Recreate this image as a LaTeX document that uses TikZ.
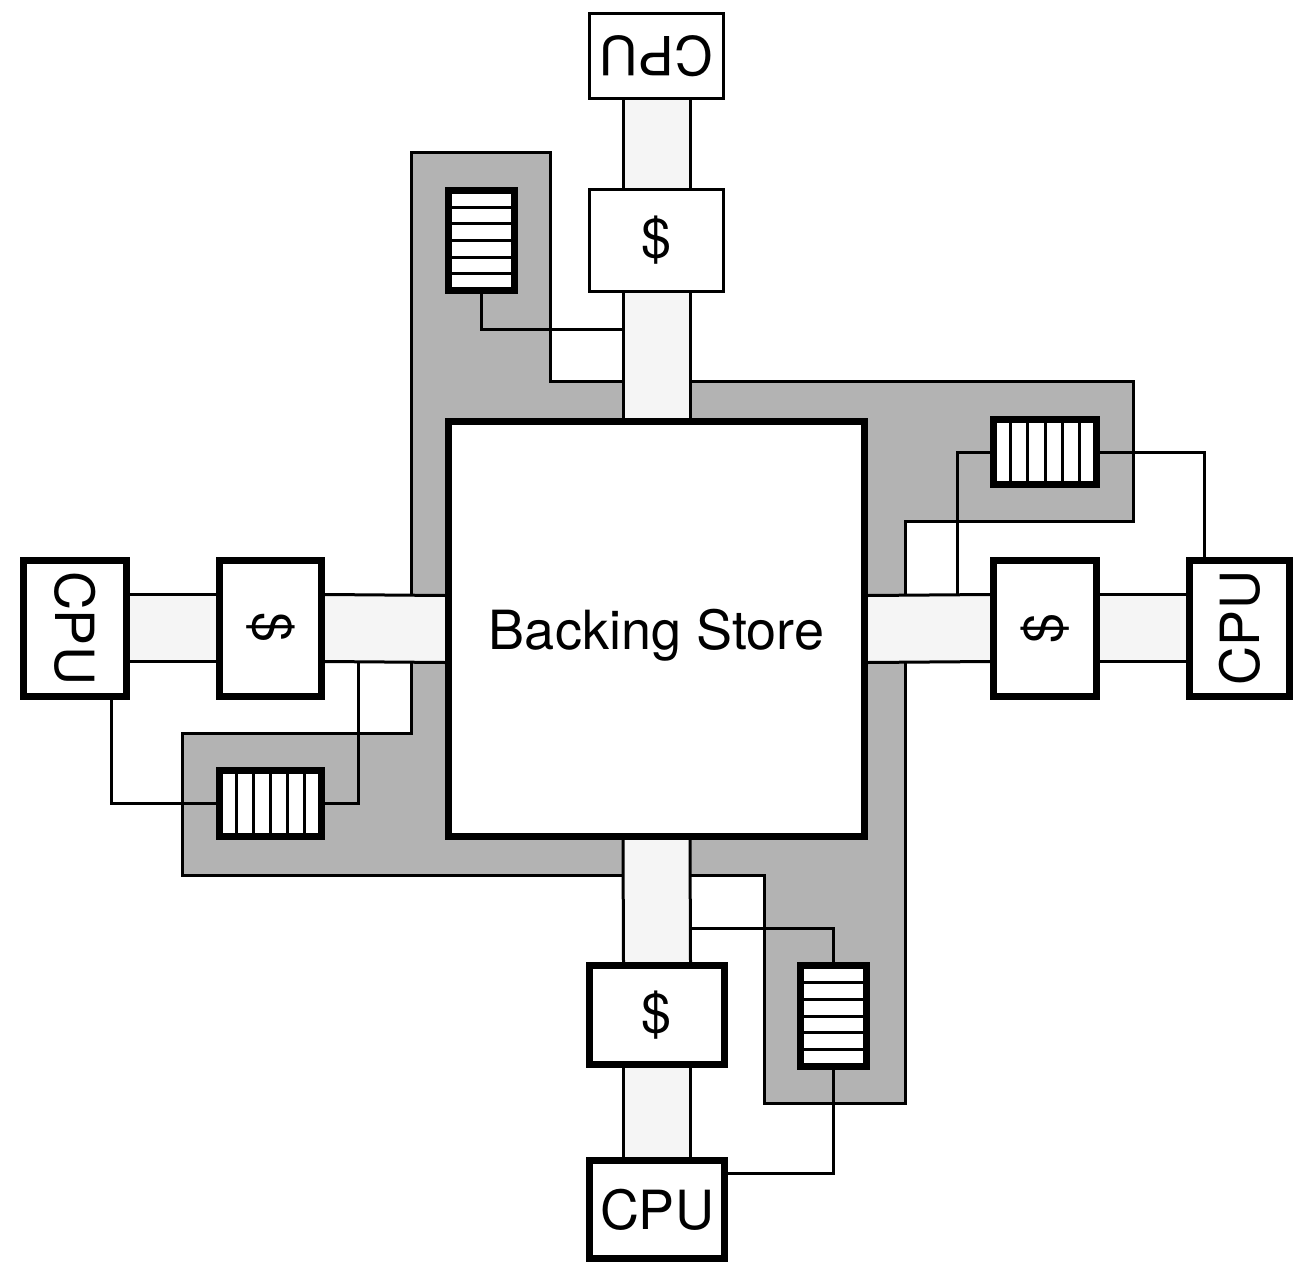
\documentclass[tikz,border=0pt]{standalone}
\usepackage{fontspec}
\setmainfont{TeX Gyre Heros}
\usepackage{graphicx}
\usetikzlibrary{backgrounds,calc}
\definecolor{ring}{HTML}{B3B3B3}
\definecolor{busfill}{HTML}{F5F5F5}
\newcommand\vbusbar[2]{%
  \fill[busfill] ($(#1.south)+(-33.5,0)$) rectangle ($(#2.north)+(33.5,0)$);
  \draw[wire] ($(#1.south)+(-33.5,0)$) -- ($(#2.north)+(-33.5,0)$)
              ($(#1.south)+(33.5,0)$) -- ($(#2.north)+(33.5,0)$);}
\newcommand\hbusbar[2]{%
  \fill[busfill] ($(#1.east)+(0,-33.5)$) rectangle ($(#2.west)+(0,33.5)$);
  \draw[wire] ($(#1.east)+(0,-33.5)$) -- ($(#2.west)+(0,-33.5)$)
              ($(#1.east)+(0,33.5)$) -- ($(#2.west)+(0,33.5)$);}
\begin{document}
\begin{tikzpicture}[x=1pt,y=-1pt,
  wire/.style={line width=3pt},
  box/.style={draw,fill=white,line width=7pt,inner sep=0pt,
    font=\fontsize{54}{60}\selectfont},
  thinbox/.style={box,line width=3pt},
  hq/.style={box,path picture={\foreach \i in {1,...,5}{
      \draw[line width=3pt]
        ($(path picture bounding box.north west)!\i/6!(path picture bounding box.south west)$) --
        ($(path picture bounding box.north east)!\i/6!(path picture bounding box.south east)$);}}},
  vq/.style={box,path picture={\foreach \i in {1,...,5}{
      \draw[line width=3pt]
        ($(path picture bounding box.north west)!\i/6!(path picture bounding box.north east)$) --
        ($(path picture bounding box.south west)!\i/6!(path picture bounding box.south east)$);}}},
  ringpoly/.style={fill=ring,draw=black,line width=3pt}
]
\useasboundingbox (0,0) rectangle (1309,1265);

% boxes
\node[thinbox,minimum width=134pt,minimum height=85pt] (cpuT) at (656.5,56) {\rotatebox{180}{CPU}};
\node[thinbox,minimum width=134pt,minimum height=102pt] (cT) at (656.5,240.5) {\$};
\node[box,minimum width=416pt,minimum height=415pt,text depth=0pt] (bs) at (656.5,629) {Backing Store};
\node[box,minimum width=135pt,minimum height=99pt] (cB) at (657,1015) {\$};
\node[box,minimum width=135pt,minimum height=98pt] (cpuB) at (657,1209.5) {CPU};
\node[box,minimum width=103pt,minimum height=136pt] (cpuL) at (75,628) {\rotatebox{-90}{CPU}};
\node[box,minimum width=102pt,minimum height=136pt] (cL) at (270.5,628) {\rotatebox{-90}{\$}};
\node[box,minimum width=103pt,minimum height=136pt] (cR) at (1045,628) {\rotatebox{90}{\$}};
\node[box,minimum width=100pt,minimum height=136pt] (cpuR) at (1239.5,628) {\rotatebox{90}{CPU}};

% queues
\node[hq,minimum width=66pt,minimum height=100pt] (qT) at (481.5,240.5) {};
\node[vq,minimum width=103pt,minimum height=65pt] (qR) at (1045,452) {};
\node[vq,minimum width=102pt,minimum height=66pt] (qL) at (270.5,803.5) {};
\node[hq,minimum width=66pt,minimum height=101pt] (qB) at (833.5,1016) {};

% junctions on bus edges
\coordinate (jT) at (623.5,329);
\coordinate (jR) at (957,594.5);
\coordinate (jL) at (358,661.5);
\coordinate (jB) at (690.5,928);

% connectors
\draw[wire] (qT.south) |- (jT);
\draw[wire] (qR.west) -| (jR);
\draw[wire] (qR.east) -| ($(cpuR.north)+(-35.5,0)$);
\draw[wire] ($(cpuL.south)+(36,0)$) |- (qL.west);
\draw[wire] (qL.east) -| (jL);
\draw[wire] (jB) -| (qB.north);
\draw[wire] (qB.south) |- ($(cpuB.east)+(0,-36.5)$);

\begin{scope}[on background layer]
  \draw[ringpoly] (411,153) -- (550,153) -- (550,381) -- (1133,381) -- (1133,521)
    -- (905,521) -- (905,1103) -- (764,1103) -- (764,875) -- (182,875)
    -- (182,733) -- (411,733) -- cycle;
  \vbusbar{cpuT}{cT}
  \vbusbar{cT}{bs}
  \vbusbar{bs}{cB}
  \vbusbar{cB}{cpuB}
  \hbusbar{cpuL}{cL}
  \hbusbar{cL}{bs}
  \hbusbar{bs}{cR}
  \hbusbar{cR}{cpuR}
\end{scope}
\end{tikzpicture}
\end{document}
